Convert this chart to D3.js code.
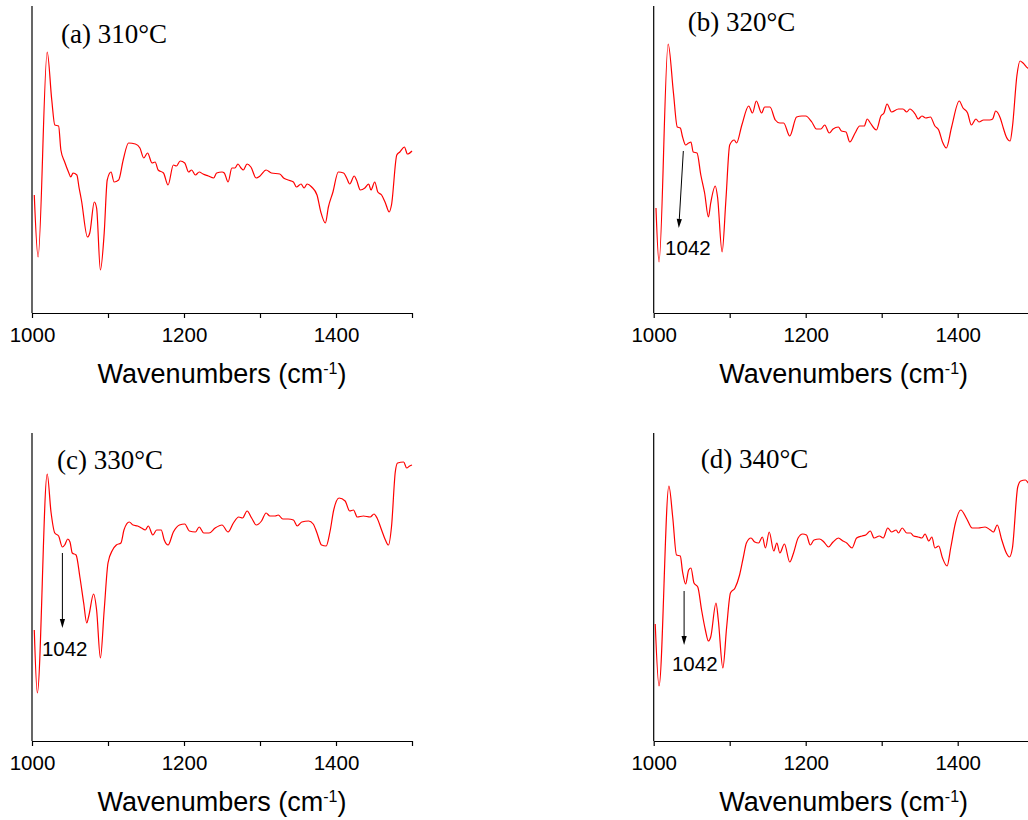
<!DOCTYPE html>
<html>
<head>
<meta charset="utf-8">
<script src="https://cdn.jsdelivr.net/npm/d3@7"></script>
<style>
    body { margin: 0; background: #fff; }
    .spectrum { fill: none; stroke: #ff0000; stroke-width: 1.2px; }
    .axis path, .axis line, .yLine { stroke: #000; stroke-width: 1.2px; }
    .axis text { font-family: "Liberation Sans", Arial, sans-serif; font-size: 20.5px; fill: #000; }
    .panelTitle { font-family: "Liberation Serif", "Times New Roman", serif; font-size: 27px; fill: #000; }
    .axisTitle { font-family: "Liberation Sans", Arial, sans-serif; font-size: 27px; fill: #000; }
    .peakLabel { font-family: "Liberation Sans", Arial, sans-serif; font-size: 20.5px; fill: #000; }
    .arrowLine { stroke: #000; stroke-width: 1px; }
</style>
</head>
<body>
<script>
//wavenumbers (cm-1) and absorbance (a.u.)
var wn310 = [1003,1008,1020,1026,1030,1035,1038,1043,1048,1051,1054,1059,1062,1065,1073,1076,1082,1085,1090,1095,1099,1104,1108,1114,1120,1127,1136,1142,1147,1152,1158,1162,1166,1173,1179,1186,1190,1195,1201,1206,1210,1215,1220,1225,1232,1239,1243,1250,1253,1258,1263,1267,1271,1275,1278,1283,1288,1295,1300,1308,1315,1326,1331,1337,1344,1348,1354,1358,1362,1368,1375,1380,1386,1390,1396,1403,1410,1414,1418,1424,1427,1432,1438,1443,1446,1451,1455,1460,1465,1470,1473,1480,1484,1490,1494,1500];
var ab310 = [118,56,261,213,188,187,163,151,141,136,140,138,125,113,76,80,111,105,43,80,133,141,131,133,153,170,169,165,155,160,150,151,143,140,128,148,147,152,150,141,143,138,141,139,137,135,140,141,140,131,145,145,149,145,143,149,146,135,137,143,140,139,135,133,131,126,129,125,129,126,118,101,90,106,121,141,140,135,129,137,133,123,125,129,123,131,121,118,110,101,108,158,161,166,159,162];

var wn320 = [1003,1007,1019,1026,1031,1035,1038,1042,1046,1049,1052,1057,1062,1067,1072,1075,1081,1084,1090,1095,1100,1106,1109,1116,1125,1130,1135,1142,1146,1153,1160,1166,1171,1179,1188,1195,1200,1208,1214,1220,1225,1231,1236,1243,1247,1253,1258,1265,1271,1277,1281,1285,1293,1299,1303,1307,1313,1322,1328,1333,1337,1344,1348,1353,1358,1364,1370,1375,1380,1385,1392,1402,1407,1413,1418,1424,1428,1434,1442,1446,1450,1456,1460,1464,1469,1472,1478,1482,1486,1492,1496,1500];
var ab320 = [105,51,269,220,186,185,176,168,170,171,161,160,138,120,96,110,127,116,61,113,168,173,170,188,207,200,212,200,206,206,193,190,190,177,196,197,197,191,184,184,188,180,184,186,182,181,171,180,187,187,194,190,183,197,200,209,201,204,204,201,204,199,194,197,195,196,187,183,171,165,186,212,205,200,188,194,191,193,193,194,202,195,185,176,172,186,238,252,250,245,244,243];

var wn330 = [1003,1007,1020,1025,1030,1035,1040,1043,1047,1050,1053,1058,1063,1068,1072,1075,1081,1085,1090,1095,1100,1106,1111,1117,1121,1128,1133,1139,1144,1149,1153,1159,1164,1170,1174,1179,1186,1194,1201,1207,1215,1220,1226,1233,1241,1250,1258,1265,1272,1277,1283,1289,1295,1302,1308,1313,1320,1324,1330,1337,1344,1349,1355,1364,1370,1375,1381,1387,1392,1397,1404,1412,1418,1423,1428,1436,1445,1450,1454,1460,1465,1469,1473,1478,1481,1489,1493,1497,1500];
var ab330 = [111,48,267,229,208,205,194,196,202,199,188,186,164,138,118,126,147,131,83,131,178,191,196,198,211,219,216,215,213,211,215,206,211,211,201,196,209,216,217,210,209,214,208,208,213,216,209,218,224,223,230,223,216,220,228,225,225,226,222,222,221,215,219,220,217,208,196,195,209,231,243,240,230,231,224,225,224,227,223,211,201,196,214,269,278,279,273,275,276];

var wn340 = [1002,1007,1020,1025,1030,1035,1038,1042,1046,1049,1053,1058,1063,1068,1072,1075,1082,1085,1091,1096,1101,1107,1113,1118,1122,1128,1133,1138,1143,1147,1152,1158,1162,1166,1172,1179,1184,1190,1196,1201,1206,1211,1218,1224,1230,1236,1243,1249,1254,1261,1267,1274,1279,1285,1290,1297,1302,1308,1313,1319,1322,1327,1333,1338,1342,1348,1353,1357,1362,1366,1370,1375,1380,1386,1391,1397,1404,1412,1419,1427,1436,1443,1447,1452,1458,1464,1468,1472,1479,1483,1489,1493,1500];
var ab340 = [117,55,255,224,186,185,169,157,171,173,158,154,131,111,100,104,138,121,73,114,148,153,166,184,198,203,199,198,204,193,209,190,198,188,197,179,188,203,207,206,196,201,202,199,194,199,203,200,198,193,203,205,206,210,203,205,203,213,209,211,208,213,208,208,205,204,203,207,200,204,193,195,183,175,194,218,231,222,213,213,214,211,209,216,201,188,184,193,254,260,261,258,255];

//1042 band arrows [x1, y1, x2, y2] and label anchor [x, y], in data units
var arrow320 = [1039, 162, 1033, 85], label320 = [1045, 58];
var arrow330 = [1040, 188, 1040, 113], label330 = [1043, 85];
var arrow340 = [1040, 150, 1040, 96], label340 = [1054, 70];

//axis ticks
var xTicks = [1000, 1100, 1200, 1300, 1400, 1500];
var xTickLabels = ["1000", "", "1200", "", "1400", ""];
var titles = ["(a) 310\u00B0C", "(b) 320\u00B0C", "(c) 330\u00B0C", "(d) 340\u00B0C"];

window.onload = setFigure();

function setFigure(){
    var svg = d3.select("body")
        .append("svg")
        .attr("width", 1028)
        .attr("height", 820);

    //panel frames: left edge, axis line, top of y axis, title spot
    setPanel(svg, {left: 32, bottom: 313, top: 6, yMax: 307, wn: wn310, ab: ab310,
        title: titles[0], tx: 61, ty: 43});
    setPanel(svg, {left: 653.7, bottom: 313, top: 6, yMax: 307, wn: wn320, ab: ab320,
        title: titles[1], tx: 687.7, ty: 30.7, arrow: arrow320, label: label320});
    setPanel(svg, {left: 32, bottom: 741, top: 433, yMax: 308, wn: wn330, ab: ab330,
        title: titles[2], tx: 57, ty: 469, arrow: arrow330, label: label330});
    setPanel(svg, {left: 653.7, bottom: 741, top: 433, yMax: 308, wn: wn340, ab: ab340,
        title: titles[3], tx: 700.7, ty: 468, arrow: arrow340, label: label340});
}

function setPanel(svg, p){
    var g = svg.append("g");

    var x = d3.scaleLinear()
        .domain([1000, 1500])
        .range([p.left, p.left + 380]);

    var y = d3.scaleLinear()
        .domain([0, p.yMax])
        .range([p.bottom, p.top]);

    //bottom axis
    var xAxis = d3.axisBottom(x)
        .tickValues(xTicks)
        .tickSize(5)
        .tickSizeOuter(0)
        .tickPadding(9)
        .tickFormat(function(d, i){ return xTickLabels[i]; });

    g.append("g")
        .attr("class", "axis")
        .attr("transform", "translate(0," + p.bottom + ")")
        .call(xAxis);

    //plain y axis line, no ticks
    g.append("line")
        .attr("class", "yLine")
        .attr("x1", p.left).attr("x2", p.left)
        .attr("y1", p.top).attr("y2", p.bottom);

    //spectrum
    var pts = p.wn.map(function(d, i){ return [d, p.ab[i]]; });
    var line = d3.line()
        .x(function(d){ return x(d[0]); })
        .y(function(d){ return y(d[1]); })
        .curve(d3.curveMonotoneX);

    g.append("path")
        .datum(pts)
        .attr("class", "spectrum")
        .attr("d", line);

    //panel title
    g.append("text")
        .attr("class", "panelTitle")
        .attr("x", p.tx)
        .attr("y", p.ty)
        .text(p.title);

    //axis title with superscript
    var at = g.append("text")
        .attr("class", "axisTitle")
        .attr("text-anchor", "middle")
        .attr("x", p.left + 190)
        .attr("y", p.bottom + 70);
    at.append("tspan").text("Wavenumbers (cm");
    at.append("tspan").attr("dy", -9).style("font-size", "16px").text("-1");
    at.append("tspan").attr("dy", 9).text(")");

    //1042 arrow
    if (p.arrow){
        var x1 = x(p.arrow[0]), y1 = y(p.arrow[1]),
            x2 = x(p.arrow[2]), y2 = y(p.arrow[3]);
        var ang = Math.atan2(y2 - y1, x2 - x1),
            len = 9, half = 2.6;
        var bx = x2 - len * Math.cos(ang), by = y2 - len * Math.sin(ang);

        g.append("line")
            .attr("class", "arrowLine")
            .attr("x1", x1).attr("y1", y1)
            .attr("x2", bx).attr("y2", by);

        g.append("path")
            .attr("d", "M" + x2 + "," + y2 +
                "L" + (bx + half * Math.sin(ang)) + "," + (by - half * Math.cos(ang)) +
                "L" + (bx - half * Math.sin(ang)) + "," + (by + half * Math.cos(ang)) + "Z")
            .attr("fill", "#000");

        g.append("text")
            .attr("class", "peakLabel")
            .attr("text-anchor", "middle")
            .attr("x", x(p.label[0]))
            .attr("y", y(p.label[1]))
            .text("1042");
    }
}
</script>
</body>
</html>
